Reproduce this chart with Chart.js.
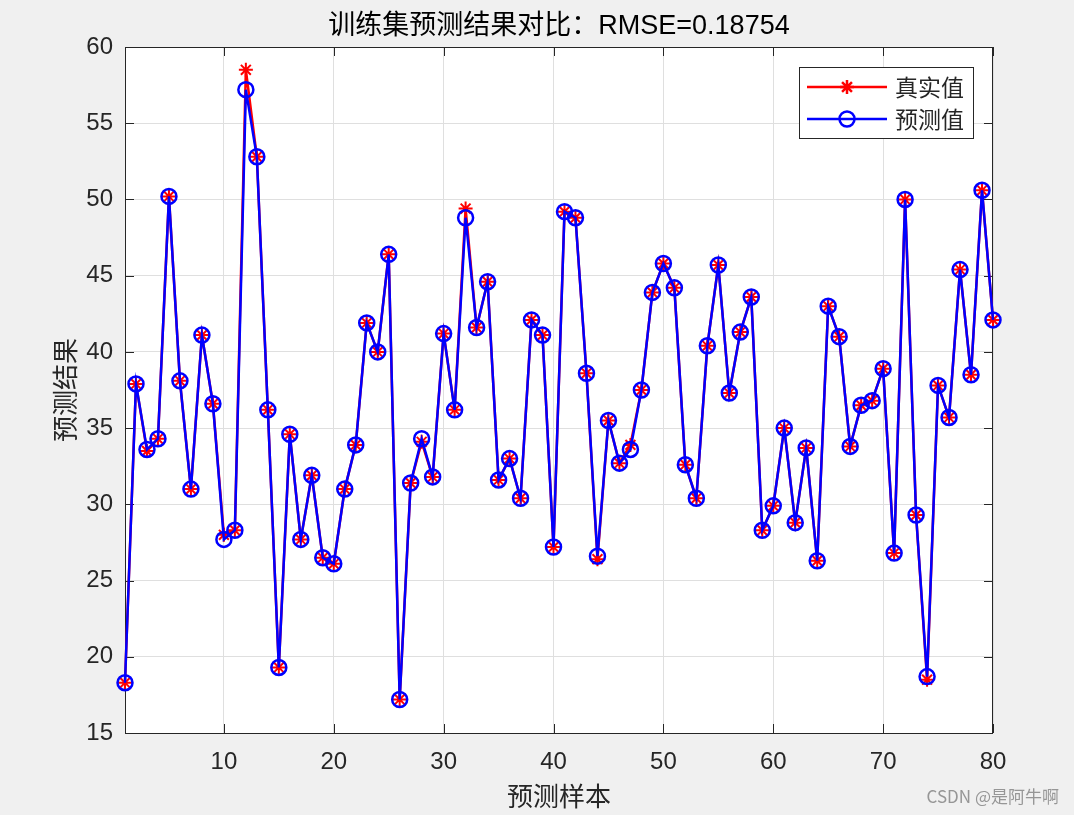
<!DOCTYPE html>
<html>
<head>
<meta charset="utf-8">
<script src="https://cdn.jsdelivr.net/npm/chart.js@4/dist/chart.umd.min.js"></script>
<style>
  html, body { margin: 0; padding: 0; background: #f0f0f0; }
  #wrap { width: 1074px; height: 815px; }
</style>
</head>
<body>
<div id="wrap"><canvas id="chart" width="1074" height="815"></canvas></div>
<script>
// sample index 1..80
const sampleIdx = Array.from({length: 80}, (_, i) => i + 1)

const trueVals = [
  18.3, 37.9, 33.5, 34.3, 50.2, 38.1, 31.0, 41.1, 36.6, 28.0,
  28.3, 58.5, 52.8, 36.2, 19.3, 34.6, 27.7, 31.9, 26.5, 26.1,
  31.0, 33.9, 41.9, 40.0, 46.4, 17.2, 31.4, 34.1, 31.8, 41.2,
  36.2, 49.4, 41.6, 44.6, 31.6, 33.0, 30.4, 42.1, 41.1, 27.2,
  49.2, 48.8, 38.6, 26.4, 35.5, 32.7, 33.9, 37.5, 43.9, 45.8,
  44.2, 32.6, 30.4, 40.4, 45.7, 37.3, 41.3, 43.6, 28.3, 29.9,
  35.0, 28.8, 33.7, 26.3, 43.0, 41.0, 33.8, 36.5, 36.8, 38.9,
  26.8, 50.0, 29.3, 18.5, 37.8, 35.7, 45.4, 38.5, 50.6, 42.1
]

const predVals = [
  18.3, 37.9, 33.6, 34.3, 50.2, 38.1, 31.0, 41.1, 36.6, 27.7,
  28.3, 57.2, 52.8, 36.2, 19.3, 34.6, 27.7, 31.9, 26.5, 26.1,
  31.0, 33.9, 41.9, 40.0, 46.4, 17.2, 31.4, 34.3, 31.8, 41.2,
  36.2, 48.8, 41.6, 44.6, 31.6, 33.0, 30.4, 42.1, 41.1, 27.2,
  49.2, 48.8, 38.6, 26.6, 35.5, 32.7, 33.6, 37.5, 43.9, 45.8,
  44.2, 32.6, 30.4, 40.4, 45.7, 37.3, 41.3, 43.6, 28.3, 29.9,
  35.0, 28.8, 33.7, 26.3, 43.0, 41.0, 33.8, 36.5, 36.8, 38.9,
  26.8, 50.0, 29.3, 18.7, 37.8, 35.7, 45.4, 38.5, 50.6, 42.1
]

const xTicks = [10, 20, 30, 40, 50, 60, 70, 80]
const legendLabels = ['真实值', '预测值']
const titleText = '训练集预测结果对比：RMSE=0.18754'

const axisColor = '#262626'
const numFont = '"Liberation Sans", Arial, "Noto Sans CJK SC", sans-serif'
const cjkFont = '"Noto Sans CJK SC", sans-serif'

function drawAsterisk(ctx, x, y, r) {
  const d = r * Math.SQRT1_2
  ctx.beginPath()
  ctx.moveTo(x - r, y); ctx.lineTo(x + r, y)
  ctx.moveTo(x, y - r); ctx.lineTo(x, y + r)
  ctx.moveTo(x - d, y - d); ctx.lineTo(x + d, y + d)
  ctx.moveTo(x - d, y + d); ctx.lineTo(x + d, y - d)
  ctx.stroke()
}

let matlabLook = {
  id: 'matlabLook',
  beforeDraw(chart) {
    const {ctx, chartArea: a} = chart
    ctx.save()
    ctx.fillStyle = '#f0f0f0'
    ctx.fillRect(0, 0, chart.width, chart.height)
    ctx.fillStyle = '#ffffff'
    ctx.fillRect(a.left, a.top, a.right - a.left, a.bottom - a.top)
    ctx.restore()
  },
  beforeDatasetsDraw(chart) {
    const {ctx, chartArea: a, scales} = chart
    ctx.save()
    ctx.strokeStyle = axisColor
    ctx.lineWidth = 1
    ctx.strokeRect(a.left + 0.5, a.top + 0.5, a.right - a.left - 1, a.bottom - a.top)
    const tl = 9
    ctx.beginPath()
    xTicks.forEach(v => {
      const px = Math.round(scales.x.getPixelForValue(v)) + 0.5
      ctx.moveTo(px, a.bottom); ctx.lineTo(px, a.bottom - tl)
      ctx.moveTo(px, a.top); ctx.lineTo(px, a.top + tl)
    })
    scales.y.ticks.forEach(t => {
      const py = Math.round(scales.y.getPixelForValue(t.value)) + 0.5
      ctx.moveTo(a.left, py); ctx.lineTo(a.left + tl, py)
      ctx.moveTo(a.right, py); ctx.lineTo(a.right - tl, py)
    })
    ctx.stroke()
    ctx.restore()
  },
  afterDraw(chart) {
    const {ctx, chartArea: a} = chart
    ctx.save()
    // title
    ctx.fillStyle = '#000'
    ctx.font = '27px ' + numFont
    ctx.textAlign = 'center'
    ctx.textBaseline = 'middle'
    ctx.fillText(titleText, (a.left + a.right) / 2, 27)

    // legend box
    const bx = 799, by = 67, bw = 174, bh = 71
    ctx.fillStyle = '#fff'
    ctx.fillRect(bx, by, bw, bh)
    ctx.strokeStyle = axisColor
    ctx.lineWidth = 1
    ctx.strokeRect(bx + 0.5, by + 0.5, bw, bh)

    const rows = [87, 119]
    const colors = ['#ff0000', '#0000ff']
    rows.forEach((ry, i) => {
      ctx.strokeStyle = colors[i]
      ctx.lineWidth = 2.5
      ctx.beginPath()
      ctx.moveTo(807, ry); ctx.lineTo(887, ry)
      ctx.stroke()
      if (i === 0) {
        drawAsterisk(ctx, 847, ry, 7)
      } else {
        ctx.beginPath()
        ctx.arc(847, ry, 7.5, 0, Math.PI * 2)
        ctx.stroke()
      }
      ctx.fillStyle = axisColor
      ctx.font = '23px ' + cjkFont
      ctx.textAlign = 'left'
      ctx.textBaseline = 'middle'
      ctx.fillText(legendLabels[i], 895, ry)
    })

    // watermark
    ctx.fillStyle = 'rgba(140,140,140,0.9)'
    ctx.font = '17px ' + cjkFont
    ctx.textAlign = 'right'
    ctx.fillText('CSDN @是阿牛啊', 1059, 797)
    ctx.restore()
  }
}

let ctx = document.getElementById('chart').getContext('2d')
let chart = new Chart(ctx, {
  type: 'line',
  data: {
    datasets: [{
      label: legendLabels[0],
      data: sampleIdx.map((x, i) => ({x: x, y: trueVals[i]})),
      borderColor: '#ff0000',
      borderWidth: 2.5,
      pointStyle: 'star',
      pointRadius: 7,
      pointBorderColor: '#ff0000',
      pointBorderWidth: 2,
      pointBackgroundColor: '#ff0000',
      tension: 0,
      clip: false,
      order: 2
    },
    {
      label: legendLabels[1],
      data: sampleIdx.map((x, i) => ({x: x, y: predVals[i]})),
      borderColor: '#0000ff',
      borderWidth: 2.5,
      pointStyle: 'circle',
      pointRadius: 7.5,
      pointBorderColor: '#0000ff',
      pointBorderWidth: 2.5,
      pointBackgroundColor: 'rgba(0,0,0,0)',
      tension: 0,
      clip: false,
      order: 1
    }]
  },
  options: {
    responsive: false,
    animation: false,
    layout: {padding: {top: 47, right: 81, left: 0, bottom: 0}},
    plugins: {
      legend: {display: false},
      title: {display: false},
      tooltip: {enabled: false}
    },
    scales: {
      x: {
        type: 'linear',
        min: 1,
        max: 80,
        afterBuildTicks: scale => { scale.ticks = xTicks.map(v => ({value: v})) },
        afterFit: scale => { scale.height = 82 },
        grid: {color: '#dfdfdf', drawTicks: false},
        border: {display: false},
        ticks: {color: axisColor, font: {family: numFont, size: 24}, padding: 15, maxRotation: 0},
        title: {display: true, text: '预测样本', color: axisColor,
                font: {family: cjkFont, size: 26}, padding: {top: 0, bottom: 3}}
      },
      y: {
        min: 15,
        max: 60,
        afterFit: scale => { scale.width = 125 },
        grid: {color: '#dfdfdf', drawTicks: false},
        border: {display: false},
        ticks: {stepSize: 5, color: axisColor, font: {family: numFont, size: 24}, padding: 12},
        title: {display: true, text: '预测结果', color: axisColor,
                font: {family: cjkFont, size: 26}, padding: {top: 50, bottom: 0}}
      }
    }
  },
  plugins: [matlabLook]
})
</script>
</body>
</html>
